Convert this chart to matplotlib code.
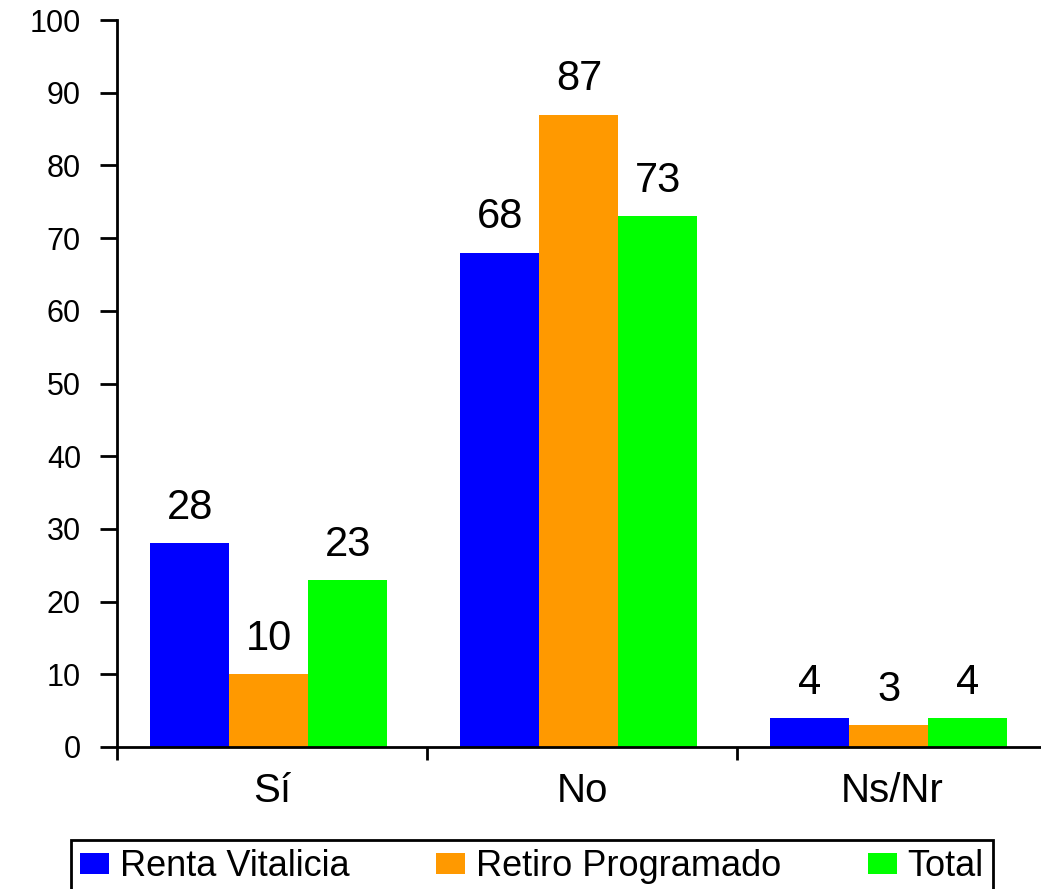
import numpy as np
import matplotlib.pyplot as plt

# datos
categorias = ['Sí', 'No', 'Ns/Nr']
series = ['Renta Vitalicia', 'Retiro Programado', 'Total']
renta_vitalicia = [28, 68, 4]
retiro_programado = [10, 87, 3]
total = [23, 73, 4]
colores = ['#0000FF', '#FF9900', '#00FF00']

plt.rcParams['font.family'] = ['Liberation Sans', 'DejaVu Sans']

fig = plt.figure(figsize=(10.41, 8.89), dpi=100)
ax = fig.add_axes([117 / 1041, 142 / 889, 930 / 1041, 727 / 889])

x = np.arange(len(categorias))
ancho = 0.255
valores = [renta_vitalicia, retiro_programado, total]
for i, (nombre, vals) in enumerate(zip(series, valores)):
    barras = ax.bar(x - 0.01 + (i - 1) * ancho, vals, ancho, color=colores[i], label=nombre)
    ax.bar_label(barras, labels=[str(v) for v in vals], padding=11, fontsize=30)

ax.set_xlim(-0.5, 2.5)
ax.set_ylim(0, 100)
ax.set_yticks(np.arange(0, 101, 10))
ax.set_xticks(x)
ax.set_xticklabels(categorias, fontsize=29)
ax.set_xticks([-0.5, 0.5, 1.5, 2.5], minor=True)
ax.tick_params(axis='x', which='major', length=0, pad=18)
ax.tick_params(axis='x', which='minor', length=9, width=2, direction='out')
ax.tick_params(axis='y', labelsize=22, length=12, width=2, pad=14)

for lado in ['top', 'right']:
    ax.spines[lado].set_visible(False)
ax.spines['left'].set_linewidth(2)
ax.spines['bottom'].set_linewidth(2)

leg = fig.legend(loc='upper center', bbox_to_anchor=(532 / 1041, 49 / 889),
                 ncol=3, fontsize=26, frameon=True, fancybox=False, framealpha=1,
                 handlelength=0.8, handleheight=0.5, handletextpad=0.3,
                 columnspacing=2.4, borderpad=0.25, borderaxespad=0)
leg.get_frame().set_edgecolor('black')
leg.get_frame().set_linewidth(2)

fig.savefig('out.png', dpi=100)
